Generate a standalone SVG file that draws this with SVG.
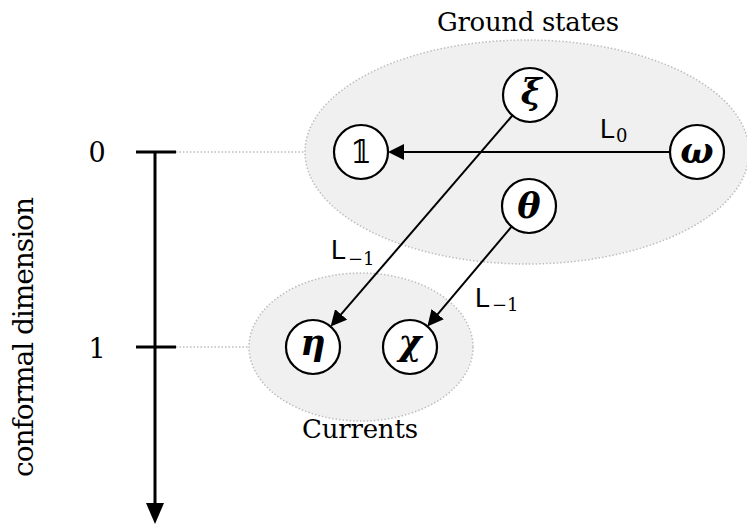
<svg xmlns="http://www.w3.org/2000/svg" width="747" height="525" viewBox="0 0 747 525">
<style>
.grp{fill:#f0f0f0;stroke:#bdbdbd;stroke-width:1.5;stroke-dasharray:1.5 2}
.guide{stroke:#bdbdbd;stroke-width:1.5;stroke-dasharray:1.5 2;fill:none}
.node{fill:#fff;stroke:#000;stroke-width:2.2}
.edge{stroke:#000;stroke-width:2;fill:none}
.axis{stroke:#000;stroke-width:3;fill:none}
.rm{font-family:'DejaVu Serif',serif;fill:#000}
.sf{font-family:'Liberation Sans',Arial,sans-serif;font-size:27px}
.sub{font-family:'DejaVu Serif',serif;font-size:18px}
.sym{font-family:'DejaVu Serif',serif;font-weight:bold;font-style:italic;font-size:35px;text-anchor:middle}
</style>
<defs>
<marker id="arr" markerUnits="userSpaceOnUse" markerWidth="16" markerHeight="16" refX="13" refY="8" orient="auto">
<path d="M0,0 L16,8 L0,16 z" fill="#000"/>
</marker>
</defs>
<rect width="747" height="525" fill="#fff"/>
<g id="groups">
<ellipse class="grp" cx="527" cy="152" rx="222" ry="112"/>
<ellipse class="grp" cx="361" cy="347" rx="112" ry="74"/>
<text class="rm" x="528" y="31" font-size="26" text-anchor="middle" textLength="182">Ground states</text>
<text class="rm" x="360" y="438" font-size="26" text-anchor="middle" textLength="116">Currents</text>
</g>
<g id="axis">
<line class="guide" x1="176" y1="152" x2="305" y2="152"/>
<line class="guide" x1="176" y1="347" x2="249" y2="347"/>
<line class="axis" x1="155" y1="152" x2="155" y2="506"/>
<line class="axis" x1="136" y1="152" x2="176" y2="152"/>
<line class="axis" x1="136" y1="347" x2="176" y2="347"/>
<path d="M146,503 L164,503 L155,524 z" fill="#000"/>
<text class="rm" x="97" y="162" font-size="27" text-anchor="middle">0</text>
<text class="rm" x="97" y="358" font-size="27" text-anchor="middle">1</text>
<text class="rm" font-size="28" text-anchor="middle" textLength="280" transform="translate(33,337) rotate(-90)">conformal dimension</text>
</g>
<g id="connectors">
<line class="edge" x1="670" y1="152" x2="391" y2="152" marker-end="url(#arr)"/>
<line class="edge" x1="512.4" y1="115.5" x2="332.6" y2="324.2" marker-end="url(#arr)"/>
<line class="edge" x1="511.6" y1="226.6" x2="429.3" y2="324.1" marker-end="url(#arr)"/>
<text class="sf" x="600" y="138">L</text><text class="sub" x="616" y="142">0</text>
<text class="sf" x="331" y="259">L</text><text class="sub" x="348" y="265">−1</text>
<text class="sf" x="475" y="307">L</text><text class="sub" x="492" y="311">−1</text>
</g>
<g id="node-one">
<circle class="node" cx="361" cy="152" r="27"/>
<text x="361" y="163" style="font-family:'DejaVu Serif','DejaVu Sans',serif" font-size="31" text-anchor="middle">𝟙</text>
</g>
<g id="node-xi">
<circle class="node" cx="530" cy="95" r="27"/>
<text class="sym" x="531" y="104">ξ</text>
</g>
<g id="node-omega">
<circle class="node" cx="697" cy="152" r="27"/>
<text class="sym" x="697" y="163">ω</text>
</g>
<g id="node-theta">
<circle class="node" cx="529" cy="206" r="27"/>
<text class="sym" x="529" y="218">θ</text>
</g>
<g id="node-eta">
<circle class="node" cx="313" cy="347" r="27"/>
<text class="sym" x="313" y="355">η</text>
</g>
<g id="node-chi">
<circle class="node" cx="410" cy="347" r="27"/>
<text class="sym" x="410" y="355">χ</text>
</g>
</svg>
